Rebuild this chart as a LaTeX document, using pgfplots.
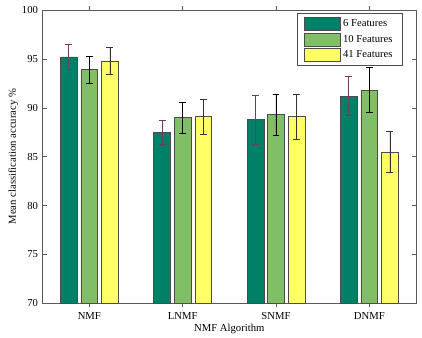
\documentclass[border=0pt]{standalone}
\usepackage{pgfplots}
\pgfplotsset{compat=1.18}
\usepackage{fontspec}
\setmainfont{Liberation Serif}
\definecolor{cA}{RGB}{0,128,102}
\definecolor{cB}{RGB}{128,191,102}
\definecolor{cC}{RGB}{255,255,102}
\definecolor{errA}{RGB}{110,60,100}
\pgfplotsset{
  mylegend/.style={/pgfplots/legend image code/.code={\draw[##1, draw=black!70] (0cm,-0.17cm) rectangle (0.95cm,0.17cm);}},
}
\begin{document}
\begin{tikzpicture}
\begin{axis}[
  scale only axis,
  width=280pt, height=220pt,
  xmin=0.5, xmax=4.5, ymin=70, ymax=100,
  xtick={1,2,3,4}, xticklabels={NMF,LNMF,SNMF,DNMF},
  ytick={70,75,80,85,90,95,100},
  tick align=inside,
  major tick length=3pt,
  xtick pos=both, ytick pos=both,
  yticklabel pos=left, xticklabel pos=bottom,
  axis line style={black!65},
  every tick/.style={black!65},
  tick label style={font=\footnotesize},
  label style={font=\footnotesize},
  /pgf/number format/assume math mode=true,
  xlabel={NMF Algorithm},
  ylabel={Mean classification accuracy \%},
  xlabel style={yshift=3pt},
  ylabel style={yshift=-4pt},
  legend style={at={(rel axis cs:0.963,0.99)}, anchor=north east, font=\footnotesize, draw=black!70, row sep=1pt, inner ysep=2.5pt, inner xsep=5pt},
  legend cell align=left,
  ybar, bar width=0.18,
  error bars/y dir=both, error bars/y explicit,
]
\addplot[fill=cA, draw=black!70, bar shift=-0.22, mylegend,
  error bars/error bar style={errA, line width=0.5pt},
  error bars/error mark options={errA, rotate=90, mark size=2.6pt, line width=0.5pt}]
  coordinates {(1,95.2) +- (0,1.3) (2,87.5) +- (0,1.2) (3,88.8) +- (0,2.5) (4,91.2) +- (0,2.0)};
\addplot[fill=cB, draw=black!70, bar shift=0, mylegend,
  error bars/error bar style={black, line width=0.5pt},
  error bars/error mark options={black, rotate=90, mark size=2.6pt, line width=0.5pt}]
  coordinates {(1,93.9) +- (0,1.4) (2,89.0) +- (0,1.6) (3,89.3) +- (0,2.1) (4,91.8) +- (0,2.3)};
\addplot[fill=cC, draw=black!70, bar shift=0.22, mylegend,
  error bars/error bar style={black!80, line width=0.5pt},
  error bars/error mark options={black!80, rotate=90, mark size=2.6pt, line width=0.5pt}]
  coordinates {(1,94.8) +- (0,1.4) (2,89.1) +- (0,1.8) (3,89.1) +- (0,2.3) (4,85.5) +- (0,2.1)};
\legend{6 Features,10 Features,41 Features}
\end{axis}
\pgfresetboundingbox
\path ([shift={(-32pt,-26pt)}]current axis.south west) rectangle ([shift={(4.5pt,7.5pt)}]current axis.north east);
\end{tikzpicture}
\end{document}
